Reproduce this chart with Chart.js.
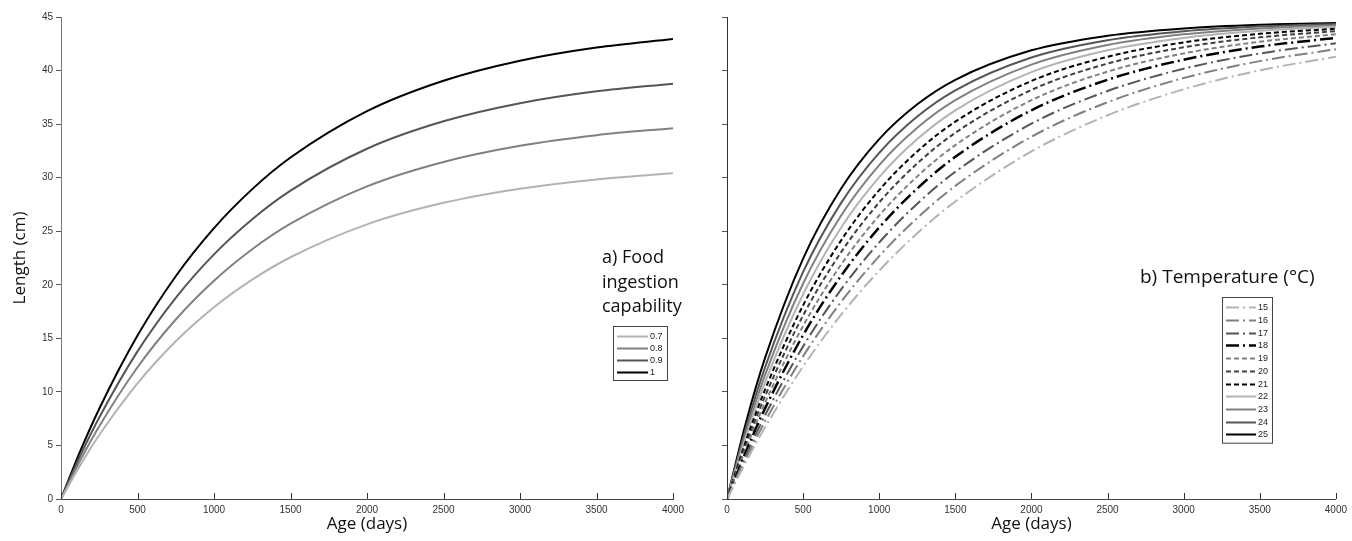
<!DOCTYPE html>
<html>
<head>
<meta charset="utf-8">
<script src="https://cdn.jsdelivr.net/npm/chart.js@4"></script>
<style>
html, body { margin: 0; padding: 0; background: #fff; }
#wrap { position: relative; width: 1352px; height: 541px; }
#foodchart { position: absolute; left: 0; top: 0; }
#tempchart { position: absolute; left: 690px; top: 0; }
</style>
</head>
<body>
<div id="wrap">
<canvas id="foodchart" width="690" height="541"></canvas>
<canvas id="tempchart" width="662" height="541"></canvas>
</div>
<script>
var ages = [0, 125, 250, 500, 750, 1000, 1250, 1500, 2000, 2500, 3000, 3500, 4000];

// a) food ingestion capability
var foodLabels = ["0.7", "0.8", "0.9", "1"];
var food07 = [0, 3.14, 5.97, 10.80, 14.73, 17.91, 20.48, 22.57, 25.64, 27.65, 28.97, 29.84, 30.41];
var food08 = [0, 3.58, 6.79, 12.30, 16.76, 20.38, 23.32, 25.70, 29.19, 31.47, 32.98, 33.97, 34.62];
var food09 = [0, 4.01, 7.61, 13.78, 18.78, 22.84, 26.12, 28.79, 32.70, 35.26, 36.95, 38.06, 38.78];
var food10 = [0, 4.44, 8.43, 15.26, 20.80, 25.29, 28.93, 31.88, 36.21, 39.05, 40.92, 42.15, 42.95];

// b) temperature (°C)
var tempLabels = ["15", "16", "17", "18", "19", "20", "21", "22", "23", "24", "25"];
var temp15 = [0, 3.48, 6.69, 12.38, 17.21, 21.32, 24.81, 27.78, 32.45, 35.82, 38.25, 40.02, 41.29];
var temp16 = [0, 3.79, 7.25, 13.33, 18.41, 22.67, 26.24, 29.23, 33.82, 37.04, 39.30, 40.88, 41.99];
var temp17 = [0, 4.09, 7.81, 14.25, 19.57, 23.95, 27.57, 30.55, 35.04, 38.09, 40.17, 41.59, 42.55];
var temp18 = [0, 4.45, 8.45, 15.30, 20.85, 25.35, 28.99, 31.95, 36.29, 39.14, 41.01, 42.24, 43.05];
var temp19 = [0, 4.75, 8.99, 16.16, 21.89, 26.47, 30.12, 33.04, 37.23, 39.90, 41.60, 42.69, 43.38];
var temp20 = [0, 5.09, 9.60, 17.14, 23.05, 27.69, 31.33, 34.19, 38.19, 40.65, 42.17, 43.10, 43.68];
var temp21 = [0, 5.44, 10.21, 18.08, 24.15, 28.84, 32.45, 35.23, 39.03, 41.29, 42.63, 43.43, 43.90];
var temp22 = [0, 5.83, 10.89, 19.12, 25.35, 30.05, 33.60, 36.29, 39.85, 41.89, 43.05, 43.71, 44.09];
var temp23 = [0, 6.21, 11.56, 20.12, 26.47, 31.17, 34.65, 37.23, 40.55, 42.38, 43.38, 43.93, 44.23];
var temp24 = [0, 6.64, 12.29, 21.20, 27.65, 32.32, 35.71, 38.16, 41.22, 42.83, 43.67, 44.11, 44.34];
var temp25 = [0, 7.16, 13.17, 22.45, 28.99, 33.60, 36.85, 39.14, 41.89, 43.25, 43.93, 44.27, 44.43];

var dashDot = [13, 4, 2, 4];
var dashed = [5, 3];

function points(vals) {
	return ages.map(function(a, i) {
		return { x : a, y : vals[i] };
	});
}

function series(label, vals, color, dash, width) {
	return {
		label : label,
		data : points(vals),
		borderColor : color,
		backgroundColor : color,
		borderWidth : width || 2,
		borderDash : dash || [],
		pointRadius : 0,
		fill : false,
		cubicInterpolationMode : 'monotone'
	};
}

// x ticks point into the plot, y ticks point out of it
var innerTicks = {
	id : 'innerTicks',
	afterDraw : function(chart) {
		var ctx = chart.ctx;
		var xs = chart.scales.x;
		var bottom = chart.chartArea.bottom;
		ctx.save();
		ctx.strokeStyle = '#333';
		ctx.lineWidth = 1;
		ctx.setLineDash([]);
		xs.ticks.forEach(function(t) {
			var px = Math.round(xs.getPixelForValue(t.value)) + 0.5;
			ctx.beginPath();
			ctx.moveTo(px, bottom);
			ctx.lineTo(px, bottom - 6);
			ctx.stroke();
		});
		ctx.restore();
	}
};

// panel caption and framed legend inside the plot
var panelNote = {
	id : 'panelNote',
	afterDraw : function(chart, args, opts) {
		var ctx = chart.ctx;
		ctx.save();
		ctx.fillStyle = '#111';
		ctx.font = opts.font;
		ctx.textBaseline = 'middle';
		ctx.textAlign = 'left';
		opts.lines.forEach(function(line, i) {
			ctx.fillText(line, opts.x, opts.y + i * opts.lineGap);
		});
		var sets = chart.data.datasets;
		var bx = opts.boxX, by = opts.boxY;
		var bh = sets.length * opts.rowGap + 6;
		ctx.setLineDash([]);
		ctx.strokeStyle = '#444';
		ctx.lineWidth = 1;
		ctx.strokeRect(bx + 0.5, by + 0.5, opts.boxW, bh);
		ctx.font = '9px "Liberation Sans", Arial, sans-serif';
		sets.forEach(function(ds, i) {
			var ly = Math.round(by + 4 + opts.rowGap * (i + 0.5)) + 0.5;
			ctx.beginPath();
			ctx.strokeStyle = ds.borderColor;
			ctx.lineWidth = ds.borderWidth;
			ctx.setLineDash(ds.borderDash);
			ctx.moveTo(bx + 4, ly);
			ctx.lineTo(bx + 4 + opts.sample, ly);
			ctx.stroke();
			ctx.setLineDash([]);
			ctx.fillStyle = '#222';
			ctx.fillText(ds.label, bx + 6 + opts.sample, ly);
		});
		ctx.restore();
	}
};

function makeOptions(showY, yWidth, padRight, note) {
	return {
		responsive : false,
		animation : false,
		layout : {
			padding : { top : 17, right : padRight, bottom : 0, left : 0 }
		},
		plugins : {
			legend : { display : false },
			tooltip : { enabled : false },
			panelNote : note
		},
		scales : {
			x : {
				type : 'linear',
				min : 0,
				max : 4000,
				afterFit : function(scale) { scale.height = 42; },
				border : { display : true, color : '#444', width : 1 },
				grid : { display : true, drawOnChartArea : false, drawTicks : false },
				ticks : {
					stepSize : 500,
					padding : 5,
					maxRotation : 0,
					color : '#333',
					font : { family : '"Liberation Sans", Arial, sans-serif', size : 10 },
					callback : function(v) { return String(v); }
				},
				title : {
					display : true,
					text : 'Age (days)',
					color : '#111',
					padding : { top : 0, bottom : 7 },
					font : { family : '"Open Sans", sans-serif', size : 17 }
				}
			},
			y : {
				min : 0,
				max : 45,
				afterFit : function(scale) { scale.width = yWidth; },
				border : { display : true, color : showY ? '#777' : '#333', width : 1 },
				grid : { display : true, drawOnChartArea : false, drawTicks : true, tickLength : 5, color : '#555' },
				ticks : {
					stepSize : 5,
					padding : 3,
					color : '#333',
					font : { family : '"Liberation Sans", Arial, sans-serif', size : 10 },
					callback : function(v) { return showY ? String(v) : ''; }
				},
				title : {
					display : showY,
					text : 'Length (cm)',
					color : '#111',
					padding : { top : 10, bottom : 0 },
					font : { family : '"Open Sans", sans-serif', size : 17 }
				}
			}
		}
	};
}

var foodChart = new Chart(document.getElementById('foodchart').getContext('2d'), {
	type : 'line',
	data : {
		datasets : [
			series(foodLabels[0], food07, '#b3b3b3'),
			series(foodLabels[1], food08, '#808080'),
			series(foodLabels[2], food09, '#555555'),
			series(foodLabels[3], food10, '#000000')
		]
	},
	options : makeOptions(true, 61, 17, {
		lines : [ 'a) Food', 'ingestion', 'capability' ],
		font : '18px "Open Sans", sans-serif',
		x : 602,
		y : 258,
		lineGap : 24.5,
		boxX : 613,
		boxY : 326,
		boxW : 54,
		rowGap : 12,
		sample : 31
	}),
	plugins : [ innerTicks, panelNote ]
});

var tempChart = new Chart(document.getElementById('tempchart').getContext('2d'), {
	type : 'line',
	data : {
		datasets : [
			series(tempLabels[0], temp15, '#b3b3b3', dashDot),
			series(tempLabels[1], temp16, '#808080', dashDot),
			series(tempLabels[2], temp17, '#555555', dashDot),
			series(tempLabels[3], temp18, '#000000', dashDot, 2.5),
			series(tempLabels[4], temp19, '#808080', dashed),
			series(tempLabels[5], temp20, '#404040', dashed),
			series(tempLabels[6], temp21, '#000000', dashed),
			series(tempLabels[7], temp22, '#b3b3b3'),
			series(tempLabels[8], temp23, '#808080'),
			series(tempLabels[9], temp24, '#555555'),
			series(tempLabels[10], temp25, '#000000')
		]
	},
	options : makeOptions(false, 37, 13, {
		lines : [ 'b) Temperature (°C)' ],
		font : '19px "Open Sans", sans-serif',
		x : 450,
		y : 278,
		lineGap : 24,
		boxX : 532,
		boxY : 297,
		boxW : 50,
		rowGap : 12.7,
		sample : 30
	}),
	plugins : [ innerTicks, panelNote ]
});
</script>
</body>
</html>
